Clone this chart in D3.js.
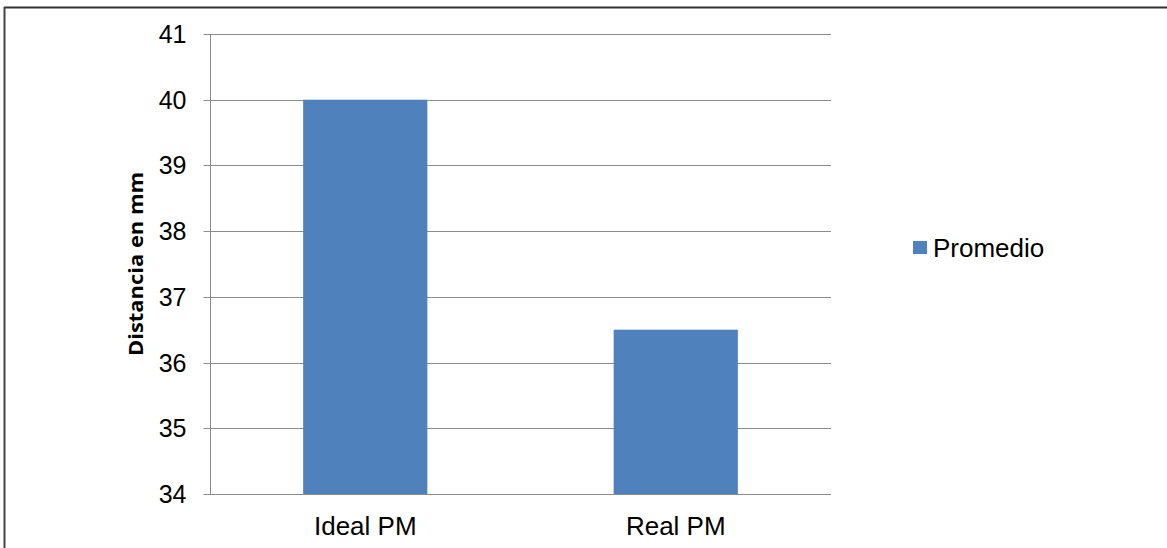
<!DOCTYPE html>
<html>
<head>
<meta charset="utf-8">
<script src="https://cdn.jsdelivr.net/npm/d3@7"></script>
<style>
  html, body { margin: 0; padding: 0; background: #fff; }
  svg { display: block; }
</style>
</head>
<body>
<svg id="chart" width="1167" height="548"></svg>
<script>
// Average distance per measurement type
const categories = ["Ideal PM", "Real PM"];
const promedio = [40, 36.5];
const yTicks = [34, 35, 36, 37, 38, 39, 40, 41];
const seriesName = "Promedio";
const yTitle = "Distancia en mm";

const W = 1167, H = 548;
const plot = { left: 210, right: 831, top: 34, bottom: 494 };
const barColor = "#4f81bd";
const gridColor = "#8c8c8c";
const font = "'Liberation Sans', Arial, sans-serif";
const tickFontSize = 25;
const labelFontSize = 26;

const svg = d3.select("#chart");

// outer frame (top and left edges)
svg.append("line").attr("x1", 4).attr("x2", W).attr("y1", 7.5).attr("y2", 7.5)
  .attr("stroke", "#333").attr("stroke-width", 2);
svg.append("line").attr("x1", 4.5).attr("x2", 4.5).attr("y1", 7).attr("y2", H)
  .attr("stroke", "#444").attr("stroke-width", 2);

const x = d3.scaleBand()
  .domain(categories)
  .range([plot.left, plot.right])
  .paddingInner(0.6)
  .paddingOuter(0.3);

const y = d3.scaleLinear()
  .domain([d3.min(yTicks), d3.max(yTicks)])
  .range([plot.bottom, plot.top]);

// horizontal gridlines
svg.append("g")
  .selectAll("line")
  .data(yTicks)
  .join("line")
  .attr("x1", plot.left).attr("x2", plot.right)
  .attr("y1", d => Math.round(y(d)) + 0.5).attr("y2", d => Math.round(y(d)) + 0.5)
  .attr("stroke", gridColor).attr("stroke-width", 1);

// bars
svg.append("g")
  .selectAll("rect")
  .data(categories.map((c, i) => ({ c, v: promedio[i] })))
  .join("rect")
  .attr("x", d => x(d.c))
  .attr("width", x.bandwidth())
  .attr("y", d => y(d.v))
  .attr("height", d => y(yTicks[0]) - y(d.v))
  .attr("fill", barColor);

// y axis
const yAxis = d3.axisLeft(y).tickValues(yTicks).tickSize(7).tickPadding(17).tickFormat(d3.format("d"));
const gy = svg.append("g")
  .attr("transform", `translate(${plot.left + 0.5},0)`)
  .call(yAxis);
gy.select(".domain").attr("stroke", gridColor).attr("d", `M0,${plot.top}V${plot.bottom}`);
gy.selectAll(".tick line").attr("stroke", gridColor);
gy.selectAll(".tick text")
  .attr("font-family", font).attr("font-size", tickFontSize).attr("fill", "#000")
  .attr("dy", "0.35em");
gy.selectAll(".tick").attr("transform", d => `translate(0,${Math.round(y(d)) + 0.5})`);

// x axis labels
const gx = svg.append("g")
  .attr("transform", `translate(0,${plot.bottom})`)
  .call(d3.axisBottom(x).tickSize(0).tickPadding(0));
gx.select(".domain").remove();
gx.selectAll(".tick text")
  .attr("font-family", font).attr("font-size", labelFontSize).attr("fill", "#000")
  .attr("y", 41).attr("dy", 0);

// y axis title
svg.append("text")
  .attr("transform", `translate(143,${(plot.top + plot.bottom) / 2}) rotate(-90)`)
  .attr("text-anchor", "middle")
  .attr("font-family", "'Open Sans', 'Noto Sans', sans-serif")
  .attr("font-weight", "bold")
  .attr("font-size", 19)
  .attr("textLength", 184)
  .attr("lengthAdjust", "spacingAndGlyphs")
  .attr("fill", "#000")
  .text(yTitle);

// legend
const lg = svg.append("g").attr("transform", "translate(913,241)");
lg.append("rect").attr("width", 14).attr("height", 13).attr("fill", barColor);
lg.append("text")
  .attr("x", 20).attr("y", 16)
  .attr("font-family", font).attr("font-size", labelFontSize).attr("fill", "#000")
  .text(seriesName);
</script>
</body>
</html>
